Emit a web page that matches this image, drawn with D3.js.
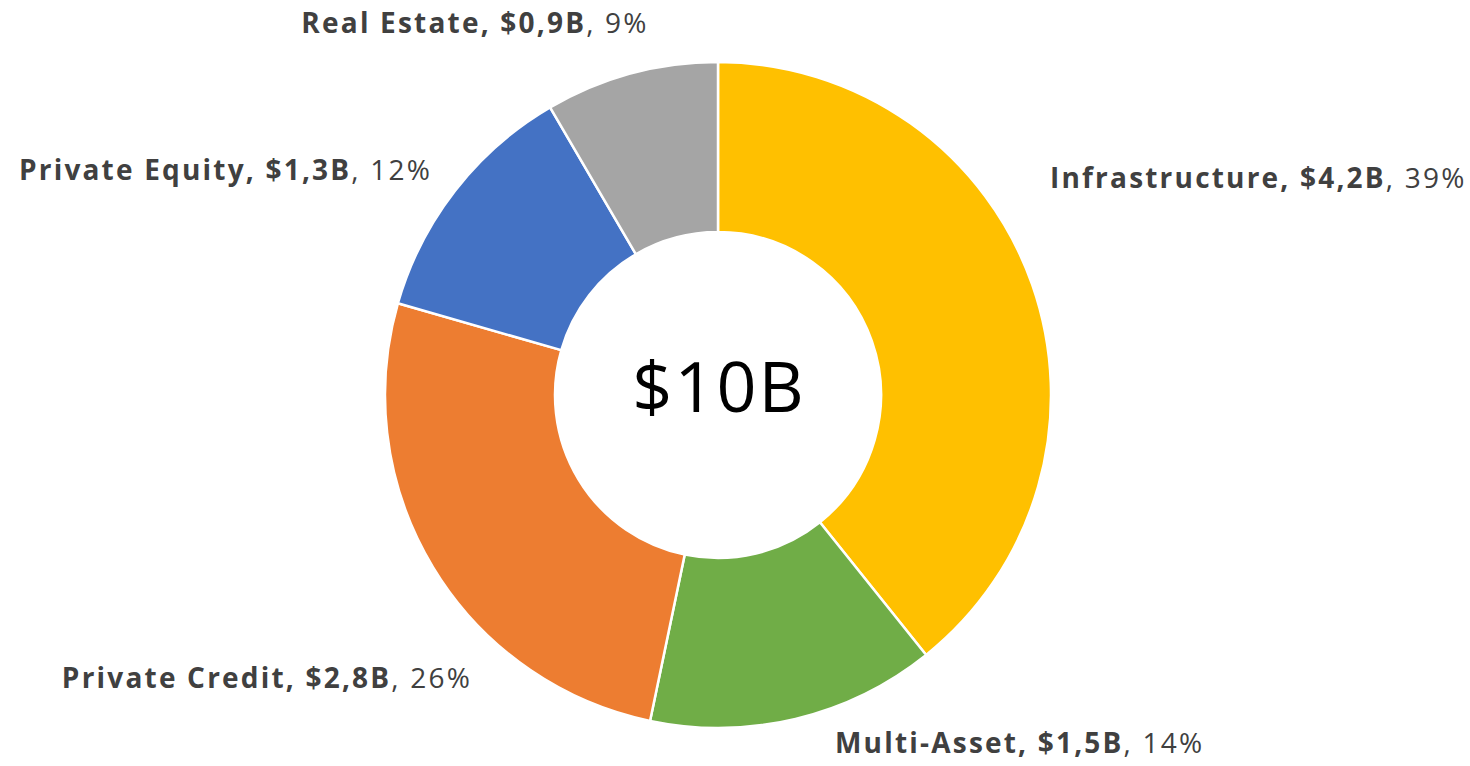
<!DOCTYPE html>
<html>
<head>
<meta charset="utf-8">
<script src="https://cdn.jsdelivr.net/npm/d3@7"></script>
<style>
  html, body { margin: 0; padding: 0; background: #fff; }
  svg { display: block; }
  .lbl { font-family: "Open Sans", "Noto Sans", sans-serif; font-size: 28px; fill: #404040; letter-spacing: 2.2px; }
  .lbl .b { font-weight: bold; }
  .center-txt { font-family: "Open Sans", "Noto Sans", sans-serif; font-size: 70px; fill: #000; letter-spacing: 2px; }
</style>
</head>
<body>
<div id="chart"></div>
<script>
// data
var categories = ["Infrastructure", "Multi-Asset", "Private Credit", "Private Equity", "Real Estate"];
var values = [4.2, 1.5, 2.8, 1.3, 0.9];
var valueLabels = ["$4,2B", "$1,5B", "$2,8B", "$1,3B", "$0,9B"];
var pctLabels = ["39%", "14%", "26%", "12%", "9%"];
var totalLabel = "$10B";

var colors = ["#FFC000", "#70AD47", "#ED7D31", "#4472C4", "#A5A5A5"];

var width = 1470, height = 766;
var cx = 718, cy = 395;
var outerR = 333, innerR = 163;

// label placement, relative to the centre (px) + text anchor
var labelPos = [
  { dx: 332, dy: -207, anchor: "start" },
  { dx: 117, dy: 358, anchor: "start" },
  { dx: -246, dy: 293, anchor: "end" },
  { dx: -286, dy: -215, anchor: "end" },
  { dx: -243, dy: -362, anchor: "middle" }
];

var svg = d3.select("#chart").append("svg")
  .attr("width", width)
  .attr("height", height);

var g = svg.append("g")
  .attr("transform", "translate(" + cx + "," + cy + ")");

var pie = d3.pie()
  .sort(null)
  .value(function(d) { return d; });

var arc = d3.arc()
  .innerRadius(innerR)
  .outerRadius(outerR);

var slices = pie(values);

g.selectAll("path")
  .data(slices)
  .enter().append("path")
  .attr("d", arc)
  .style("fill", function(d, i) { return colors[i]; })
  .style("stroke", "#fff")
  .style("stroke-width", 2.5)
  .style("stroke-linejoin", "round");

// centre total
g.append("text")
  .attr("class", "center-txt")
  .attr("text-anchor", "middle")
  .attr("x", 1)
  .attr("y", 17)
  .text(totalLabel);

// labels
var lbl = g.selectAll(".lbl")
  .data(slices)
  .enter().append("text")
  .attr("class", "lbl")
  .attr("x", function(d, i) { return labelPos[i].dx; })
  .attr("y", function(d, i) { return labelPos[i].dy; })
  .attr("text-anchor", function(d, i) { return labelPos[i].anchor; });

lbl.append("tspan")
  .attr("class", "b")
  .text(function(d, i) { return categories[i] + ", " + valueLabels[i]; });
lbl.append("tspan")
  .text(function(d, i) { return ", " + pctLabels[i]; });
</script>
</body>
</html>
